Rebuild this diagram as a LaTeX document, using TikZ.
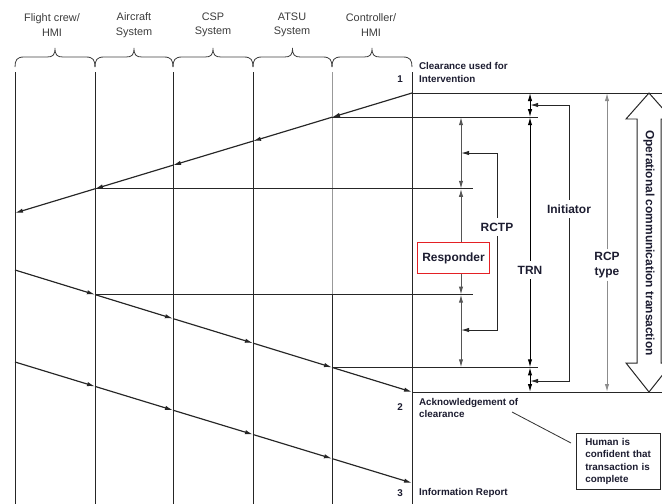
\documentclass[tikz,border=0pt]{standalone}
\usepackage{fontspec}
\setmainfont{Liberation Sans}
\usetikzlibrary{arrows.meta,calc}

\begin{document}
\begin{tikzpicture}[>={Latex[length=2.4mm,width=1.3mm]}, x=0.03cm, y=-0.03cm]

% Colors
\definecolor{labeltxt}{RGB}{28,28,48}
\definecolor{headtxt}{RGB}{60,60,60}
\definecolor{respred}{RGB}{228,32,36}
\definecolor{rcpgrey}{RGB}{140,140,140}
\definecolor{respgrey}{RGB}{85,85,85}

% Styles
\tikzset{
  lane/.style={
    line width=0.8pt,
    draw=black!85
  },
  lanebrace/.style={
    line width=0.7pt,
    draw=black!75
  },
  msg/.style={
    ->,
    line width=1pt,
    draw=black!85
  },
  refline/.style={
    line width=0.85pt,
    draw=black!85
  },
  dimline/.style={
    <->,
    line width=0.85pt,
    draw=black
  },
  bracket/.style={
    ->,
    line width=0.85pt,
    draw=black!85
  },
  header/.style={
    align=center,
    text=headtxt,
    font=\fontsize{9.3}{12.5}\selectfont
  },
  note/.style={
    align=left,
    text=labeltxt,
    font=\bfseries\fontsize{8.4}{10.6}\selectfont
  },
  dimlabel/.style={
    align=center,
    text=labeltxt,
    inner sep=4pt,
    font=\bfseries\fontsize{10.2}{13}\selectfont
  }
}

\useasboundingbox (0,0) rectangle (662,504);
\clip (0,0) rectangle (662,504);

% Lane headers
\node[header] (hdFC)   at (52,25)  {Flight crew/\\HMI};
\node[header] (hdAC)   at (134,25) {Aircraft\\System};
\node[header] (hdCSP)  at (213,25) {CSP\\System};
\node[header] (hdATSU) at (292,25) {ATSU\\System};
\node[header] (hdCTL)  at (371,25) {Controller/\\HMI};

% Braces under the headers
\foreach \xa/\xb in {15/95,95/173,173/253,253/332,332/412}{
  \pgfmathsetmacro\xm{(\xa+\xb)/2}
  \draw[lanebrace] (\xa,67) .. controls (\xa,60) and (\xa+2,57) .. (\xa+9,57)
    -- (\xm-8,57) .. controls (\xm-2,57) and (\xm,55) .. (\xm,48)
    .. controls (\xm,55) and (\xm+2,57) .. (\xm+8,57)
    -- (\xb-9,57) .. controls (\xb-2,57) and (\xb,60) .. (\xb,67);
}

% Lane coordinates
\foreach \n/\x in {fc/15,ac/95,csp/173,atsu/253,ctl/332,rt/412}{
  \coordinate (\n T) at (\x,72);
  \coordinate (\n B) at (\x,504);
}
\coordinate (ctlM) at (332,294.6);

% Lanes
\draw[lane] (fcT) -- (fcB);
\draw[lane] (acT) -- (acB);
\draw[lane] (cspT) -- (cspB);
\draw[lane] (atsuT) -- (atsuB);
\draw[lane, draw=black!40] (ctlT) -- (ctlM);
\draw[lane] (ctlM) -- (ctlB);
\draw[lane] (rtT) -- (rtB);

% Message points
\coordinate (m1a) at (412,93);
\coordinate (m1b) at (332,117.2);
\coordinate (m1c) at (253,141.1);
\coordinate (m1d) at (173,165.2);
\coordinate (m1e) at (95,188.8);
\coordinate (m1f) at (15,213);

\coordinate (m2a) at (15,270);
\coordinate (m2b) at (95,294.6);
\coordinate (m2c) at (173,318.6);
\coordinate (m2d) at (253,343.1);
\coordinate (m2e) at (332,367.4);
\coordinate (m2f) at (412,392);

\coordinate (m3a) at (15,362);
\coordinate (m3b) at (95,386.4);
\coordinate (m3c) at (173,410.2);
\coordinate (m3d) at (253,434.5);
\coordinate (m3e) at (332,458.6);
\coordinate (m3f) at (412,483);

% Messages, one arrow per lane crossing
\foreach \p/\q in {m1a/m1b,m1b/m1c,m1c/m1d,m1d/m1e,m1e/m1f,
                   m2a/m2b,m2b/m2c,m2c/m2d,m2d/m2e,m2e/m2f,
                   m3a/m3b,m3b/m3c,m3c/m3d,m3d/m3e,m3e/m3f}
  \draw[msg] (\p) -- (\q);

% Reference lines
\coordinate (h0) at (662,93);
\coordinate (h1) at (538,117.2);
\coordinate (h2) at (473,188.8);
\coordinate (h3) at (473,294.6);
\coordinate (h4) at (538,367.4);
\coordinate (h5) at (662,392);

\draw[refline] (m1a) -- (h0);
\draw[refline] (m1b) -- (h1);
\draw[refline] (m1e) -- (h2);
\draw[refline] (m2b) -- (h3);
\draw[refline] (m2e) -- (h4);
\draw[refline] (m2f) -- (h5);

% Measurement points
\coordinate (r1) at (461,117.2);
\coordinate (r2) at (461,188.8);
\coordinate (r3) at (461,294.6);
\coordinate (r4) at (461,367.4);

\coordinate (t0) at (530,93);
\coordinate (t1) at (530,117.2);
\coordinate (t4) at (530,367.4);
\coordinate (t5) at (530,392);

\coordinate (rcA)  at (497,153);
\coordinate (rcAt) at (461,153);
\coordinate (rcB)  at (497,330);
\coordinate (rcBt) at (461,330);

\coordinate (inA)  at (569,105);
\coordinate (inAt) at (530,105);
\coordinate (inB)  at (569,381);
\coordinate (inBt) at (530,381);

\coordinate (rcpT) at (607,93);
\coordinate (rcpB) at (607,392);

% Labels of the measurements
\node[dimlabel] (rctp) at (497,227) {RCTP};
\node[dimlabel] (trn)  at (530,270) {TRN};
\node[dimlabel] (init) at (569,209) {Initiator};
\node[dimlabel, inner sep=2pt] (rcp) at (607,265) {RCP\\type};

% Responder
\draw[dimline, draw=respgrey] (r1) -- (r2);
\draw[dimline, draw=respgrey] (r2) -- (r3);
\draw[dimline, draw=respgrey] (r3) -- (r4);

% RCTP bracket
\draw[bracket] (rctp) -- (rcA) -- (rcAt);
\draw[bracket] (rctp) -- (rcB) -- (rcBt);

% TRN
\draw[dimline] (t0) -- (t1);
\draw[bracket, draw=black] (trn) -- (t1);
\draw[bracket, draw=black] (trn) -- (t4);
\draw[dimline] (t4) -- (t5);

% Initiator bracket
\draw[bracket] (init) -- (inA) -- (inAt);
\draw[bracket] (init) -- (inB) -- (inBt);

% RCP type
\draw[bracket, draw=rcpgrey] (rcp) -- (rcpT);
\draw[bracket, draw=rcpgrey] (rcp) -- (rcpB);

% Operational communication transaction arrow
\draw[line width=0.85pt, draw=black!85, fill=white]
  (649,93) -- (672,119) -- (661,119) -- (661,363) -- (672,363) -- (649,392)
  -- (626,363) -- (637,363) -- (637,119) -- (626,119) -- cycle;
\node[rotate=-90, text=labeltxt, font=\bfseries\fontsize{10.2}{12}\selectfont]
  (oct) at (649,243) {Operational communication transaction};

% Responder box
\node[draw=respred, line width=1pt, fill=white, text=labeltxt,
  minimum width=62pt, minimum height=27pt, inner sep=2pt,
  font=\bfseries\fontsize{10.2}{12}\selectfont] (resp) at (453.5,258) {Responder};

% Event labels
\node[note, anchor=east] (n1) at (407,79) {1};
\node[note, anchor=west] (ev1) at (415,72.5) {Clearance used for\\Intervention};
\node[note, anchor=east] (n2) at (407,407) {2};
\node[note, anchor=west] (ev2) at (415,408) {Acknowledgement of\\clearance};
\node[note, anchor=east] (n3) at (407,493) {3};
\node[note, anchor=west] (ev3) at (415,493) {Information Report};

% Callout
\node[note, draw=black!85, line width=0.85pt, anchor=north west,
  text width=57pt, inner xsep=7.5pt, inner ysep=4pt] (human) at (576,433)
  {Human is\\confident that\\transaction is\\complete};
\coordinate (callA) at (512,412);
\coordinate (callB) at (571,443);
\draw[line width=0.7pt, draw=black!80] (callA) -- (callB);

\end{tikzpicture}
\end{document}
